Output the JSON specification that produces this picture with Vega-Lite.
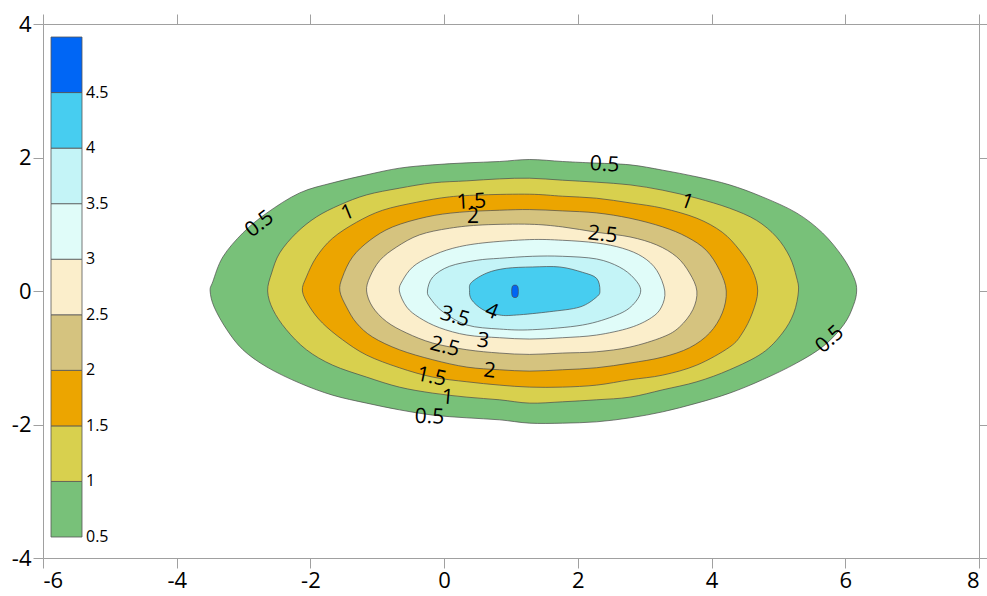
{
  "$schema": "https://vega.github.io/schema/vega-lite/v6.json",
  "autosize": "none",
  "width": 936,
  "height": 534,
  "padding": {"left": 43, "top": 24, "right": 8, "bottom": 38},
  "background": "white",
  "config": {
    "view": {"stroke": null},
    "font": "Open Sans",
    "axis": {
      "grid": false,
      "domainColor": "#a0a0a0",
      "tickColor": "#a0a0a0",
      "tickSize": 10,
      "labelFontSize": 22,
      "labelColor": "black",
      "labelFont": "Open Sans",
      "labelPadding": 2,
      "title": null
    }
  },
  "datasets": {
    "contours": [
      {"level":0.5,"i":0,"x":-3.5,"y":0},{"level":0.5,"i":1,"x":-3.46,"y":0.14},{"level":0.5,"i":2,"x":-3.31,"y":0.51},{"level":0.5,"i":3,"x":-3.01,"y":0.87},{"level":0.5,"i":4,"x":-2.65,"y":1.17},{"level":0.5,"i":5,"x":-2.16,"y":1.47},{"level":0.5,"i":6,"x":-1.67,"y":1.62},{"level":0.5,"i":7,"x":-1.16,"y":1.74},{"level":0.5,"i":8,"x":-0.67,"y":1.84},{"level":0.5,"i":9,"x":-0.17,"y":1.89},{"level":0.5,"i":10,"x":0.34,"y":1.92},{"level":0.5,"i":11,"x":0.83,"y":1.94},{"level":0.5,"i":12,"x":1.28,"y":1.97},{"level":0.5,"i":13,"x":1.77,"y":1.94},{"level":0.5,"i":14,"x":2.18,"y":1.92},{"level":0.5,"i":15,"x":2.78,"y":1.89},{"level":0.5,"i":16,"x":3.27,"y":1.81},{"level":0.5,"i":17,"x":3.78,"y":1.71},{"level":0.5,"i":18,"x":4.27,"y":1.59},{"level":0.5,"i":19,"x":4.76,"y":1.41},{"level":0.5,"i":20,"x":5.27,"y":1.17},{"level":0.5,"i":21,"x":5.66,"y":0.87},{"level":0.5,"i":22,"x":5.96,"y":0.51},{"level":0.5,"i":23,"x":6.13,"y":0.2},{"level":0.5,"i":24,"x":6.17,"y":0},{"level":0.5,"i":25,"x":6.12,"y":-0.22},{"level":0.5,"i":26,"x":5.98,"y":-0.5},{"level":0.5,"i":27,"x":5.68,"y":-0.82},{"level":0.5,"i":28,"x":5.27,"y":-1.08},{"level":0.5,"i":29,"x":4.76,"y":-1.33},{"level":0.5,"i":30,"x":4.27,"y":-1.53},{"level":0.5,"i":31,"x":3.78,"y":-1.68},{"level":0.5,"i":32,"x":3.27,"y":-1.81},{"level":0.5,"i":33,"x":2.78,"y":-1.9},{"level":0.5,"i":34,"x":2.28,"y":-1.96},{"level":0.5,"i":35,"x":1.77,"y":-1.98},{"level":0.5,"i":36,"x":1.28,"y":-1.98},{"level":0.5,"i":37,"x":0.83,"y":-1.93},{"level":0.5,"i":38,"x":0.34,"y":-1.9},{"level":0.5,"i":39,"x":-0.17,"y":-1.86},{"level":0.5,"i":40,"x":-0.67,"y":-1.78},{"level":0.5,"i":41,"x":-1.16,"y":-1.68},{"level":0.5,"i":42,"x":-1.67,"y":-1.56},{"level":0.5,"i":43,"x":-2.16,"y":-1.38},{"level":0.5,"i":44,"x":-2.65,"y":-1.14},{"level":0.5,"i":45,"x":-3.01,"y":-0.88},{"level":0.5,"i":46,"x":-3.25,"y":-0.58},{"level":0.5,"i":47,"x":-3.44,"y":-0.24},

      {"level":1,"i":0,"x":-2.64,"y":0},{"level":1,"i":1,"x":-2.58,"y":0.27},{"level":1,"i":2,"x":-2.46,"y":0.57},{"level":1,"i":3,"x":-2.21,"y":0.87},{"level":1,"i":4,"x":-1.91,"y":1.11},{"level":1,"i":5,"x":-1.56,"y":1.29},{"level":1,"i":6,"x":-1.16,"y":1.44},{"level":1,"i":7,"x":-0.67,"y":1.54},{"level":1,"i":8,"x":-0.17,"y":1.62},{"level":1,"i":9,"x":0.34,"y":1.65},{"level":1,"i":10,"x":0.83,"y":1.68},{"level":1,"i":11,"x":1.28,"y":1.69},{"level":1,"i":12,"x":1.77,"y":1.66},{"level":1,"i":13,"x":2.28,"y":1.63},{"level":1,"i":14,"x":2.78,"y":1.59},{"level":1,"i":15,"x":3.27,"y":1.51},{"level":1,"i":16,"x":3.78,"y":1.39},{"level":1,"i":17,"x":4.27,"y":1.24},{"level":1,"i":18,"x":4.67,"y":1.06},{"level":1,"i":19,"x":4.97,"y":0.81},{"level":1,"i":20,"x":5.17,"y":0.51},{"level":1,"i":21,"x":5.27,"y":0.21},{"level":1,"i":22,"x":5.3,"y":0},{"level":1,"i":23,"x":5.23,"y":-0.33},{"level":1,"i":24,"x":5.06,"y":-0.63},{"level":1,"i":25,"x":4.76,"y":-0.93},{"level":1,"i":26,"x":4.27,"y":-1.18},{"level":1,"i":27,"x":3.78,"y":-1.36},{"level":1,"i":28,"x":3.27,"y":-1.48},{"level":1,"i":29,"x":2.78,"y":-1.59},{"level":1,"i":30,"x":2.28,"y":-1.63},{"level":1,"i":31,"x":1.77,"y":-1.66},{"level":1,"i":32,"x":1.28,"y":-1.68},{"level":1,"i":33,"x":0.83,"y":-1.63},{"level":1,"i":34,"x":0.34,"y":-1.59},{"level":1,"i":35,"x":-0.17,"y":-1.53},{"level":1,"i":36,"x":-0.67,"y":-1.44},{"level":1,"i":37,"x":-1.16,"y":-1.29},{"level":1,"i":38,"x":-1.67,"y":-1.11},{"level":1,"i":39,"x":-2.06,"y":-0.88},{"level":1,"i":40,"x":-2.36,"y":-0.58},{"level":1,"i":41,"x":-2.56,"y":-0.28},

      {"level":1.5,"i":0,"x":-2.12,"y":0},{"level":1.5,"i":1,"x":-2.06,"y":0.21},{"level":1.5,"i":2,"x":-1.91,"y":0.51},{"level":1.5,"i":3,"x":-1.67,"y":0.79},{"level":1.5,"i":4,"x":-1.31,"y":1.03},{"level":1.5,"i":5,"x":-0.92,"y":1.21},{"level":1.5,"i":6,"x":-0.41,"y":1.33},{"level":1.5,"i":7,"x":0.08,"y":1.41},{"level":1.5,"i":8,"x":0.58,"y":1.44},{"level":1.5,"i":9,"x":1.28,"y":1.45},{"level":1.5,"i":10,"x":1.77,"y":1.42},{"level":1.5,"i":11,"x":2.28,"y":1.39},{"level":1.5,"i":12,"x":2.78,"y":1.32},{"level":1.5,"i":13,"x":3.27,"y":1.24},{"level":1.5,"i":14,"x":3.78,"y":1.09},{"level":1.5,"i":15,"x":4.16,"y":0.88},{"level":1.5,"i":16,"x":4.42,"y":0.61},{"level":1.5,"i":17,"x":4.61,"y":0.31},{"level":1.5,"i":18,"x":4.69,"y":0},{"level":1.5,"i":19,"x":4.61,"y":-0.33},{"level":1.5,"i":20,"x":4.46,"y":-0.63},{"level":1.5,"i":21,"x":4.27,"y":-0.84},{"level":1.5,"i":22,"x":3.78,"y":-1.11},{"level":1.5,"i":23,"x":3.27,"y":-1.26},{"level":1.5,"i":24,"x":2.78,"y":-1.33},{"level":1.5,"i":25,"x":2.28,"y":-1.41},{"level":1.5,"i":26,"x":1.77,"y":-1.44},{"level":1.5,"i":27,"x":1.28,"y":-1.44},{"level":1.5,"i":28,"x":0.83,"y":-1.41},{"level":1.5,"i":29,"x":0.34,"y":-1.36},{"level":1.5,"i":30,"x":-0.17,"y":-1.29},{"level":1.5,"i":31,"x":-0.67,"y":-1.15},{"level":1.5,"i":32,"x":-1.16,"y":-0.96},{"level":1.5,"i":33,"x":-1.52,"y":-0.73},{"level":1.5,"i":34,"x":-1.82,"y":-0.48},{"level":1.5,"i":35,"x":-2.01,"y":-0.24},

      {"level":2,"i":0,"x":-1.56,"y":0},{"level":2,"i":1,"x":-1.52,"y":0.21},{"level":2,"i":2,"x":-1.37,"y":0.51},{"level":2,"i":3,"x":-1.11,"y":0.76},{"level":2,"i":4,"x":-0.77,"y":0.96},{"level":2,"i":5,"x":-0.26,"y":1.11},{"level":2,"i":6,"x":0.23,"y":1.18},{"level":2,"i":7,"x":0.83,"y":1.21},{"level":2,"i":8,"x":1.28,"y":1.22},{"level":2,"i":9,"x":1.77,"y":1.2},{"level":2,"i":10,"x":2.28,"y":1.17},{"level":2,"i":11,"x":2.78,"y":1.09},{"level":2,"i":12,"x":3.27,"y":0.96},{"level":2,"i":13,"x":3.63,"y":0.81},{"level":2,"i":14,"x":3.92,"y":0.61},{"level":2,"i":15,"x":4.12,"y":0.31},{"level":2,"i":16,"x":4.22,"y":0},{"level":2,"i":17,"x":4.16,"y":-0.33},{"level":2,"i":18,"x":3.97,"y":-0.63},{"level":2,"i":19,"x":3.67,"y":-0.85},{"level":2,"i":20,"x":3.27,"y":-0.99},{"level":2,"i":21,"x":2.78,"y":-1.08},{"level":2,"i":22,"x":2.28,"y":-1.15},{"level":2,"i":23,"x":1.77,"y":-1.18},{"level":2,"i":24,"x":1.28,"y":-1.2},{"level":2,"i":25,"x":0.83,"y":-1.18},{"level":2,"i":26,"x":0.34,"y":-1.14},{"level":2,"i":27,"x":-0.17,"y":-1.03},{"level":2,"i":28,"x":-0.67,"y":-0.88},{"level":2,"i":29,"x":-1.07,"y":-0.69},{"level":2,"i":30,"x":-1.31,"y":-0.48},{"level":2,"i":31,"x":-1.46,"y":-0.24},

      {"level":2.5,"i":0,"x":-1.16,"y":0},{"level":2.5,"i":1,"x":-1.11,"y":0.21},{"level":2.5,"i":2,"x":-0.96,"y":0.46},{"level":2.5,"i":3,"x":-0.71,"y":0.66},{"level":2.5,"i":4,"x":-0.37,"y":0.84},{"level":2.5,"i":5,"x":0.08,"y":0.94},{"level":2.5,"i":6,"x":0.58,"y":0.99},{"level":2.5,"i":7,"x":1.28,"y":1.0},{"level":2.5,"i":8,"x":1.77,"y":0.96},{"level":2.5,"i":9,"x":2.28,"y":0.88},{"level":2.5,"i":10,"x":2.78,"y":0.81},{"level":2.5,"i":11,"x":3.18,"y":0.69},{"level":2.5,"i":12,"x":3.48,"y":0.51},{"level":2.5,"i":13,"x":3.67,"y":0.27},{"level":2.5,"i":14,"x":3.78,"y":0},{"level":2.5,"i":15,"x":3.72,"y":-0.28},{"level":2.5,"i":16,"x":3.52,"y":-0.54},{"level":2.5,"i":17,"x":3.27,"y":-0.69},{"level":2.5,"i":18,"x":2.78,"y":-0.84},{"level":2.5,"i":19,"x":2.28,"y":-0.91},{"level":2.5,"i":20,"x":1.77,"y":-0.93},{"level":2.5,"i":21,"x":1.28,"y":-0.95},{"level":2.5,"i":22,"x":0.83,"y":-0.93},{"level":2.5,"i":23,"x":0.34,"y":-0.88},{"level":2.5,"i":24,"x":-0.17,"y":-0.78},{"level":2.5,"i":25,"x":-0.56,"y":-0.63},{"level":2.5,"i":26,"x":-0.86,"y":-0.46},{"level":2.5,"i":27,"x":-1.07,"y":-0.24},

      {"level":3,"i":0,"x":-0.67,"y":0},{"level":3,"i":1,"x":-0.62,"y":0.16},{"level":3,"i":2,"x":-0.47,"y":0.36},{"level":3,"i":3,"x":-0.22,"y":0.51},{"level":3,"i":4,"x":0.13,"y":0.64},{"level":3,"i":5,"x":0.58,"y":0.72},{"level":3,"i":6,"x":1.28,"y":0.77},{"level":3,"i":7,"x":1.77,"y":0.76},{"level":3,"i":8,"x":2.28,"y":0.72},{"level":3,"i":9,"x":2.67,"y":0.64},{"level":3,"i":10,"x":2.97,"y":0.51},{"level":3,"i":11,"x":3.18,"y":0.31},{"level":3,"i":12,"x":3.3,"y":0},{"level":3,"i":13,"x":3.25,"y":-0.24},{"level":3,"i":14,"x":3.1,"y":-0.4},{"level":3,"i":15,"x":2.78,"y":-0.55},{"level":3,"i":16,"x":2.28,"y":-0.66},{"level":3,"i":17,"x":1.77,"y":-0.7},{"level":3,"i":18,"x":1.28,"y":-0.72},{"level":3,"i":19,"x":0.83,"y":-0.7},{"level":3,"i":20,"x":0.34,"y":-0.66},{"level":3,"i":21,"x":-0.07,"y":-0.55},{"level":3,"i":22,"x":-0.37,"y":-0.4},{"level":3,"i":23,"x":-0.56,"y":-0.24},

      {"level":3.5,"i":0,"x":-0.25,"y":0},{"level":3.5,"i":1,"x":-0.17,"y":0.21},{"level":3.5,"i":2,"x":0.08,"y":0.37},{"level":3.5,"i":3,"x":0.49,"y":0.46},{"level":3.5,"i":4,"x":0.83,"y":0.49},{"level":3.5,"i":5,"x":1.32,"y":0.52},{"level":3.5,"i":6,"x":1.77,"y":0.52},{"level":3.5,"i":7,"x":2.28,"y":0.48},{"level":3.5,"i":8,"x":2.62,"y":0.36},{"level":3.5,"i":9,"x":2.84,"y":0.19},{"level":3.5,"i":10,"x":2.94,"y":0},{"level":3.5,"i":11,"x":2.82,"y":-0.21},{"level":3.5,"i":12,"x":2.58,"y":-0.36},{"level":3.5,"i":13,"x":2.07,"y":-0.51},{"level":3.5,"i":14,"x":1.32,"y":-0.58},{"level":3.5,"i":15,"x":0.83,"y":-0.57},{"level":3.5,"i":16,"x":0.34,"y":-0.51},{"level":3.5,"i":17,"x":-0.02,"y":-0.31},{"level":3.5,"i":18,"x":-0.2,"y":-0.12},

      {"level":4,"i":0,"x":0.38,"y":0.01},{"level":4,"i":1,"x":0.41,"y":0.13},{"level":4,"i":2,"x":0.64,"y":0.27},{"level":4,"i":3,"x":0.93,"y":0.34},{"level":4,"i":4,"x":1.32,"y":0.36},{"level":4,"i":5,"x":1.73,"y":0.36},{"level":4,"i":6,"x":2.07,"y":0.28},{"level":4,"i":7,"x":2.28,"y":0.19},{"level":4,"i":8,"x":2.33,"y":0.01},{"level":4,"i":9,"x":2.28,"y":-0.09},{"level":4,"i":10,"x":2.03,"y":-0.24},{"level":4,"i":11,"x":1.58,"y":-0.31},{"level":4,"i":12,"x":1.08,"y":-0.36},{"level":4,"i":13,"x":0.83,"y":-0.36},{"level":4,"i":14,"x":0.58,"y":-0.28},{"level":4,"i":15,"x":0.41,"y":-0.13},

      {"level":4.5,"i":0,"x":1.02,"y":0.07},{"level":4.5,"i":1,"x":1.1,"y":0.07},{"level":4.5,"i":2,"x":1.1,"y":-0.08},{"level":4.5,"i":3,"x":1.02,"y":-0.08}
    ],
    "labels": [
      {"label":"0.5","x":-2.76,"y":1.0,"angle":-38},
      {"label":"1","x":-1.44,"y":1.17,"angle":-22},
      {"label":"1.5","x":0.41,"y":1.33,"angle":-3},
      {"label":"2","x":0.43,"y":1.11,"angle":0},
      {"label":"0.5","x":2.4,"y":1.89,"angle":3},
      {"label":"1","x":3.63,"y":1.33,"angle":20},
      {"label":"2.5","x":2.37,"y":0.84,"angle":6},
      {"label":"0.5","x":5.77,"y":-0.73,"angle":-42},
      {"label":"3.5","x":0.16,"y":-0.39,"angle":16},
      {"label":"4","x":0.71,"y":-0.31,"angle":22},
      {"label":"3","x":0.58,"y":-0.75,"angle":8},
      {"label":"2.5","x":0.01,"y":-0.84,"angle":14},
      {"label":"2","x":0.68,"y":-1.2,"angle":6},
      {"label":"1.5","x":-0.19,"y":-1.29,"angle":12},
      {"label":"1","x":0.05,"y":-1.6,"angle":5},
      {"label":"0.5","x":-0.22,"y":-1.89,"angle":2}
    ]
  },
  "resolve": {"axis": {"x": "independent", "y": "independent"}},
  "layer": [
    {
      "data": {"name": "contours"},
      "mark": {"type": "line", "interpolate": "cardinal-closed", "stroke": "#4a4a4a", "strokeWidth": 0.7},
      "encoding": {
        "x": {"field": "x", "type": "quantitative", "scale": {"domain": [-6, 8], "nice": false, "zero": false},
              "axis": {"orient": "bottom", "values": [-6, -4, -2, 0, 2, 4, 6, 8], "labelExpr": "'' + datum.value"}},
        "y": {"field": "y", "type": "quantitative", "scale": {"domain": [-4, 4], "nice": false, "zero": false},
              "axis": {"orient": "left", "values": [-4, -2, 0, 2, 4], "labelExpr": "'' + datum.value"}},
        "order": {"field": "i", "type": "quantitative"},
        "fill": {
          "field": "level", "type": "quantitative",
          "scale": {"type": "quantize", "domain": [0.5, 5], "zero": false, "nice": false,
                    "range": ["#78c179", "#d8d04e", "#eca500", "#d5c37f", "#fbeecb", "#e0fcf9", "#c4f4f7", "#47cdf0", "#0066f5"]},
          "legend": {
            "type": "gradient", "direction": "vertical", "orient": "none",
            "legendX": 8, "legendY": 13, "title": null,
            "gradientLength": 500, "gradientThickness": 31,
            "gradientStrokeColor": "#555555", "gradientStrokeWidth": 0.8,
            "values": [0.5, 1, 1.5, 2, 2.5, 3, 3.5, 4, 4.5],
            "labelExpr": "'' + datum.value",
            "labelFontSize": 16, "labelFont": "Open Sans", "labelColor": "black",
            "labelOffset": 4, "labelOverlap": false,
            "encode": {"labels": {"update": {"baseline": {"value": "middle"}}}}
          }
        }
      }
    },
    {
      "data": {"name": "labels"},
      "mark": {"type": "text", "font": "Open Sans", "fontSize": 21, "color": "black", "align": "center", "baseline": "middle"},
      "encoding": {
        "x": {"field": "x", "type": "quantitative", "axis": {"orient": "top", "values": [-6, -4, -2, 0, 2, 4, 6, 8], "labels": false}},
        "y": {"field": "y", "type": "quantitative", "axis": {"orient": "right", "values": [-4, -2, 0, 2, 4], "labels": false}},
        "text": {"field": "label", "type": "nominal"},
        "angle": {"field": "angle", "type": "quantitative", "scale": null}
      }
    }
  ]
}
